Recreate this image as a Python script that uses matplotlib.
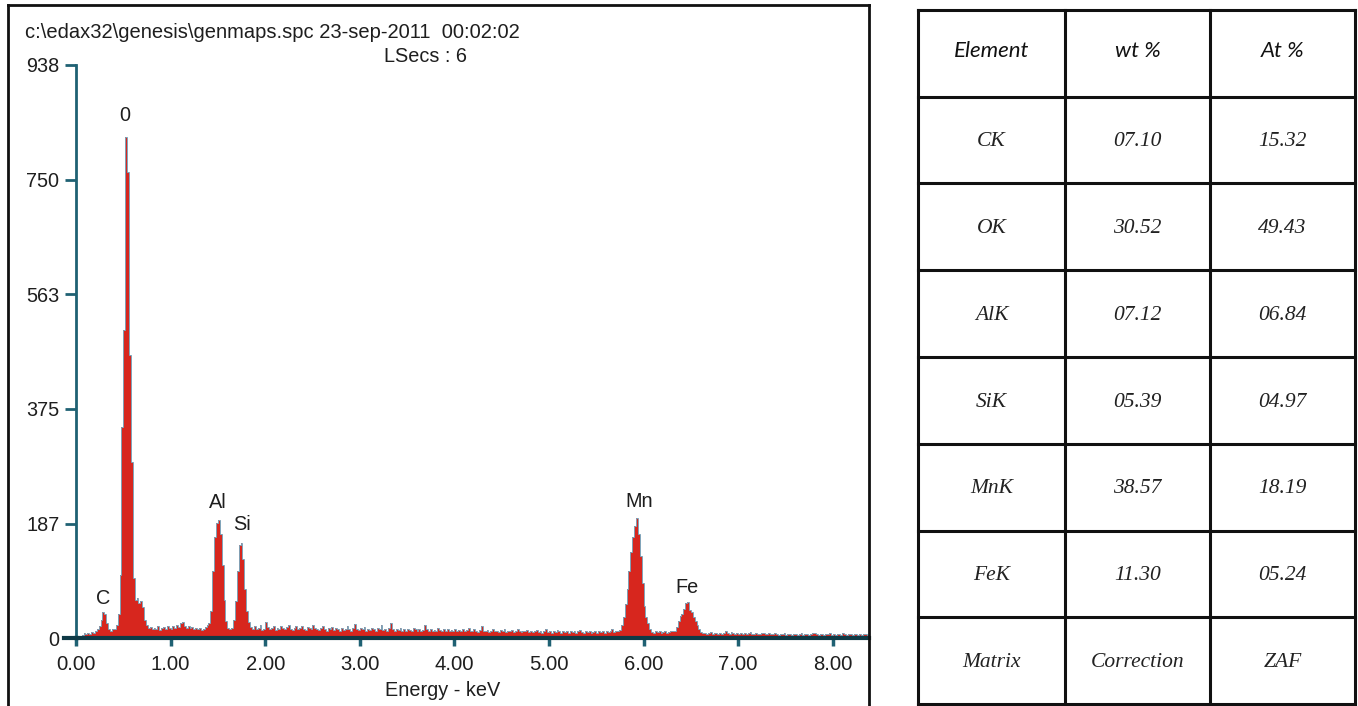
import numpy as np
import matplotlib
matplotlib.use("Agg")
import matplotlib.pyplot as plt
from matplotlib.lines import Line2D

# ---------------- data ----------------
channel_width_kev = 0.02
counts = [
    2, 3, 4, 5, 8, 6, 9, 7, 10, 8, 11, 14, 20, 30, 42, 40, 25, 14, 12, 15,          # 0.00-0.38
    14, 22, 40, 103, 345, 504, 820, 763, 463, 288, 98, 62, 65, 58, 60, 50, 30, 22, 16, 18,  # 0.40-0.78
    14, 17, 15, 19, 13, 16, 18, 14, 20, 17, 15, 19, 16, 21, 18, 24, 27, 20, 17, 19,  # 0.80-1.18
    16, 18, 15, 17, 14, 16, 13, 15, 18, 22, 24, 45, 110, 165, 188, 193, 170, 120, 62, 28,  # 1.20-1.58
    17, 15, 16, 30, 60, 110, 152, 156, 130, 80, 45, 26, 18, 15, 20, 14, 16, 22, 13, 15,  # 1.60-1.98
    26, 18, 14, 16, 19, 13, 17, 15, 20, 16, 14, 18, 21, 15, 13, 17, 19, 14, 16, 20,  # 2.00-2.38
    15, 13, 18, 16, 14, 22, 17, 15, 13, 16, 19, 14, 12, 17, 15, 18, 13, 16, 14, 12,  # 2.40-2.78
    16, 13, 15, 19, 14, 12, 17, 23, 15, 13, 16, 14, 18, 12, 15, 13, 17, 14, 12, 16,  # 2.80-3.18
    14, 22, 13, 15, 12, 16, 24, 14, 12, 15, 13, 17, 12, 14, 11, 15, 13, 12, 16, 14,  # 3.20-3.58
    12, 15, 11, 13, 21, 14, 12, 15, 11, 13, 12, 16, 13, 11, 14, 12, 15, 11, 13, 12,  # 3.60-3.98
    14, 11, 13, 12, 15, 11, 13, 17, 12, 11, 14, 12, 10, 13, 19, 12, 11, 13, 10, 12,  # 4.00-4.38
    15, 11, 12, 10, 13, 11, 14, 10, 12, 11, 13, 10, 12, 15, 11, 10, 12, 11, 13, 10,  # 4.40-4.78
    12, 10, 11, 13, 10, 12, 9, 11, 14, 10, 12, 9, 11, 10, 13, 11, 9, 12, 10, 11,     # 4.80-5.18
    9, 11, 10, 12, 9, 11, 13, 10, 9, 11, 10, 12, 9, 10, 11, 9, 12, 10, 11, 9,        # 5.20-5.58
    12, 10, 11, 14, 10, 12, 11, 13, 22, 35, 55, 80, 110, 140, 165, 183, 197, 170, 135, 90,  # 5.60-5.98
    52, 35, 24, 14, 10, 9, 11, 10, 12, 9, 10, 11, 9, 10, 12, 11, 12, 18, 28, 36,     # 6.00-6.38
    40, 48, 57, 59, 46, 42, 35, 28, 22, 14, 10, 8, 9, 7, 8, 10, 7, 9, 8, 6,          # 6.40-6.78
    8, 7, 9, 11, 8, 7, 10, 8, 6, 9, 7, 8, 6, 9, 7, 8, 10, 7, 6, 8,                   # 6.80-7.18
    7, 6, 8, 9, 6, 7, 8, 6, 7, 9, 6, 5, 7, 6, 8, 5, 6, 7, 5, 6,                      # 7.20-7.58
    7, 5, 6, 8, 5, 6, 7, 5, 6, 8, 9, 6, 5, 7, 6, 5, 7, 6, 8, 5,                      # 7.60-7.98
    6, 5, 7, 6, 5, 8, 6, 5, 7, 6, 5, 6, 7, 5, 6, 5, 7, 6, 5, 6,                      # 8.00-8.38
]
x_max_kev = 8.383
y_max_counts = 938
y_ticks = [0, 187, 375, 563, 750, 938]
x_ticks = [0, 1, 2, 3, 4, 5, 6, 7, 8]
x_tick_labels = ["0.00", "1.00", "2.00", "3.00", "4.00", "5.00", "6.00", "7.00", "8.00"]

peak_labels = ["C", "0", "Al", "Si", "Mn", "Fe"]
peak_label_kev = [0.285, 0.518, 1.50, 1.755, 5.95, 6.46]
peak_label_counts = [65, 856, 221, 185, 224, 82]

title_text = "c:\\edax32\\genesis\\genmaps.spc 23-sep-2011  00:02:02"
lsecs_text = "LSecs : 6"
x_label_text = "Energy - keV"

table_header = ["Element", "wt %", "At %"]
elements = ["CK", "OK", "AlK", "SiK", "MnK", "FeK", "Matrix"]
wt_pct = ["07.10", "30.52", "07.12", "05.39", "38.57", "11.30", "Correction"]
at_pct = ["15.32", "49.43", "06.84", "04.97", "18.19", "05.24", "ZAF"]

# ---------------- figure ----------------
W, H = 1358, 706
fig = plt.figure(figsize=(W / 100, H / 100), dpi=100)
fig.patch.set_facecolor("white")


def fx(x):
    return x / W


def fy(y):
    return 1 - y / H


RED = "#d7261e"
EDGE = "#7fa3b8"
TEAL = "#1f6173"
DARK = "#0f3a46"
SANS = "Liberation Sans"
TXT = "#1e1e1e"
FS = 14.3

# outer frame of the spectrum panel
for xs, ys in [((8, 8), (5, 706)), ((8, 869), (5, 5)), ((869, 869), (5, 706))]:
    fig.add_artist(Line2D([fx(xs[0]), fx(xs[1])], [fy(ys[0]), fy(ys[1])],
                          transform=fig.transFigure, color="#111111", lw=2.0))

ax = fig.add_axes([fx(76), fy(638), (869 - 76) / W, (638 - 65) / H])
ax.set_xlim(0, x_max_kev)
ax.set_ylim(0, y_max_counts)
edges = np.arange(len(counts) + 1) * channel_width_kev
ax.stairs(counts, edges, fill=True, color=RED, zorder=2, lw=0)
ax.stairs(counts, edges, color=EDGE, lw=0.7, zorder=3)

for s in ["top", "right"]:
    ax.spines[s].set_visible(False)
ax.spines["left"].set_color(TEAL)
ax.spines["left"].set_linewidth(2.0)
ax.spines["bottom"].set_color(DARK)
ax.spines["bottom"].set_linewidth(3.0)
ax.spines["bottom"].set_zorder(5)
# extension of the base line to the left of the y axis
fig.add_artist(Line2D([fx(64), fx(77)], [fy(638), fy(638)],
                      transform=fig.transFigure, color=DARK, lw=3.0))

ax.set_yticks(y_ticks)
ax.set_yticklabels([str(v) for v in y_ticks])
ax.set_xticks(x_ticks)
ax.set_xticklabels(x_tick_labels)
ax.tick_params(axis="y", direction="out", length=8, width=2, color=TEAL, pad=4,
               labelsize=FS, labelcolor=TXT)
ax.tick_params(axis="x", direction="out", length=6, width=2.5, color=TEAL, pad=6,
               labelsize=FS + 0.3, labelcolor=TXT)
for lab in ax.get_xticklabels() + ax.get_yticklabels():
    lab.set_fontfamily(SANS)

for lab, xk, yc in zip(peak_labels, peak_label_kev, peak_label_counts):
    ax.text(xk, yc, lab, ha="center", va="center", fontsize=FS,
            family=SANS, color=TXT)

fig.text(fx(25), fy(32), title_text, ha="left", va="center", fontsize=FS + 0.2,
         family=SANS, color=TXT)
fig.text(fx(426), fy(56), lsecs_text, ha="center", va="center", fontsize=FS,
         family=SANS, color=TXT)
fig.text(fx(443), fy(690), x_label_text, ha="center", va="center", fontsize=FS,
         family=SANS, color=TXT)

# ---------------- table ----------------
tl, tr, tt, tb = 918, 1355, 10, 704
tax = fig.add_axes([fx(tl), fy(tb), (tr - tl) / W, (tb - tt) / H])
tax.set_xlim(0, 1)
n_rows = len(elements) + 1
tax.set_ylim(n_rows, 0)
tax.axis("off")
col_edges = [0, (1065 - tl) / (tr - tl), (1210 - tl) / (tr - tl), 1]
for r in range(n_rows + 1):
    tax.plot([0, 1], [r, r], color="#111111", lw=2.2, clip_on=False,
             solid_capstyle="projecting")
for c in col_edges:
    tax.plot([c, c], [0, n_rows], color="#111111", lw=2.2, clip_on=False,
             solid_capstyle="projecting")
col_centers = [(col_edges[i] + col_edges[i + 1]) / 2 for i in range(3)]

for c, h in zip(col_centers, table_header):
    tax.text(c, 0.47, h, ha="center", va="center", fontsize=16, style="italic",
             family="Lato", color="#111111")
for r, row in enumerate(zip(elements, wt_pct, at_pct), start=1):
    for c, val in zip(col_centers, row):
        tax.text(c, r + 0.52, val, ha="center", va="center", fontsize=15.5,
                 style="italic", family="Liberation Serif", color="#222222")

fig.savefig("out.png", dpi=100, facecolor="white")
